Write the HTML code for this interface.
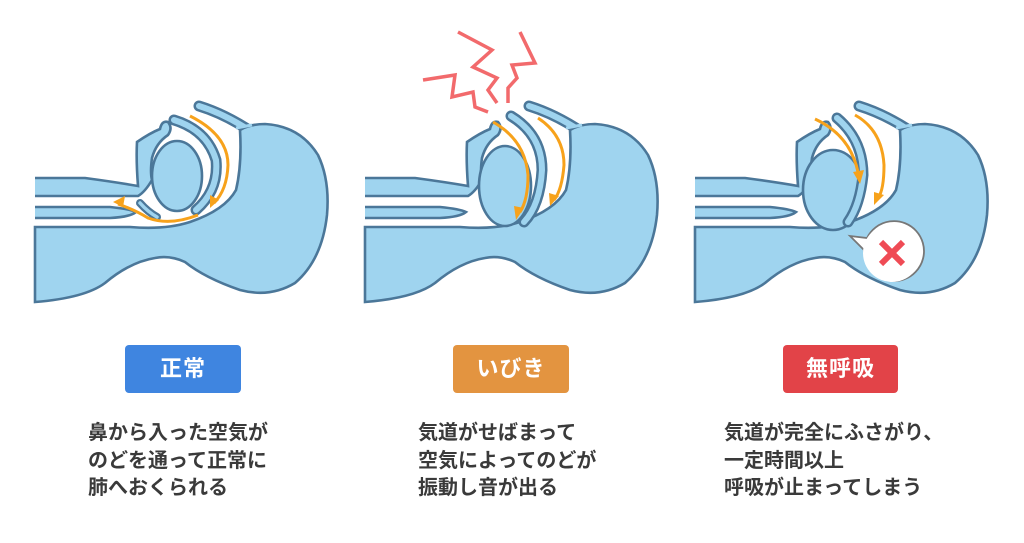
<!DOCTYPE html>
<html><head><meta charset="utf-8"><style>
html,body{margin:0;padding:0;background:#fff;}
body{width:1024px;height:543px;position:relative;overflow:hidden;font-family:"Liberation Sans","Noto Sans CJK JP",sans-serif;}
.badge{position:absolute;top:345px;height:48px;border-radius:4px;color:#fff;font-size:22px;font-weight:bold;text-align:center;line-height:48px;letter-spacing:1px}
.txt{position:absolute;top:420px;font-size:20px;line-height:27.5px;color:#3a3a3a;font-weight:bold;white-space:nowrap}
svg{position:absolute;left:0;top:0}
</style></head><body>
<svg width="1024" height="340" viewBox="0 0 1024 340">
<defs>
<g id="body">
 <path d="M199,106 Q225,114 252,132" fill="none" stroke="#4b7799" stroke-width="11" stroke-linecap="round"/>
 <path d="M199,106 Q225,114 252,132" fill="none" stroke="#9fd4ef" stroke-width="6" stroke-linecap="round"/>
 <path d="M35,227 L130,227 Q165,230 190,222 Q225,210 236,190 Q242,165 240,130 Q250,124 265,124 Q300,126 318,155 Q330,180 327,215 Q322,260 295,283 Q270,298 240,290 Q205,278 185,262 Q170,255 155,258 Q130,262 105,283 Q85,298 35,302 Z" fill="#9fd4ef" stroke="#4b7799" stroke-width="2.6"/>
 <path d="M236,128 L252,125" stroke="#9fd4ef" stroke-width="3"/>
 <path d="M35,207 L110,207 Q130,209 136,212 Q130,217 110,218 L35,218" fill="#9fd4ef" stroke="#4b7799" stroke-width="2.6"/>
</g>
<g id="face">
 <path d="M35,178 L85,178 Q115,182 138,186 Q136,160 137,142 Q150,133 160,129 Q162,120 168,122 Q173,128 168,135 Q156,143 152,158 Q150,172 152,180 Q145,192 138,196 L35,196" fill="#9fd4ef" stroke="#4b7799" stroke-width="2.6"/>
</g>
</defs>
<!-- panel 1 -->
<use href="#body"/>
<use href="#face"/>
<ellipse cx="177" cy="176" rx="25" ry="35" fill="#9fd4ef" stroke="#4b7799" stroke-width="2.6"/>
<path d="M140,203 Q148,212 157,217" fill="none" stroke="#4b7799" stroke-width="8" stroke-linecap="round"/>
<path d="M140,203 Q148,212 157,217" fill="none" stroke="#9fd4ef" stroke-width="3.5" stroke-linecap="round"/>
<path d="M174,120 Q207,130 216,160 Q219,190 196,210" fill="none" stroke="#4b7799" stroke-width="11" stroke-linecap="round"/>
<path d="M174,120 Q207,130 216,160 Q219,190 196,210" fill="none" stroke="#9fd4ef" stroke-width="6" stroke-linecap="round"/>
<g fill="none" stroke="#f7a21b" stroke-width="3">
 <path d="M190,116 Q228,135 228,165 Q227,190 214,203"/>
 <path d="M198,215 Q170,226 148,218 Q135,210 118,204"/>
</g>
<g fill="#f7a21b"><path d="M210,208 L210,195 L219,200 Z"/><path d="M113,202 L125,196 L123,207 Z"/></g>

<!-- panel 2 -->
<g transform="translate(330,0)">
<use href="#body"/>
<use href="#face"/>
<ellipse cx="175" cy="186" rx="26" ry="40" fill="#9fd4ef" stroke="#4b7799" stroke-width="2.6"/>
<path d="M181,116 Q212,135 212,170 Q210,205 194,222" fill="none" stroke="#4b7799" stroke-width="11" stroke-linecap="round"/>
<path d="M181,116 Q212,135 212,170 Q210,205 194,222" fill="none" stroke="#9fd4ef" stroke-width="6" stroke-linecap="round"/>
<g fill="none" stroke="#f7a21b" stroke-width="3">
 <path d="M163,122 Q195,140 198,175 Q198,200 190,212"/>
 <path d="M208,118 Q234,135 234,165 Q232,190 224,200"/>
</g>
<g fill="#f7a21b"><path d="M186,220 L184,206 L194,208 Z"/><path d="M220,206 L219,193 L229,196 Z"/></g>
</g>
<g fill="none" stroke="#f26a6c" stroke-width="3.5" stroke-linejoin="miter">
 <polyline points="423,80 455,75 452,97 473,92 475,107 488,112"/>
 <polyline points="458,32 492,50 473,67 497,78 488,90 497,103"/>
 <polyline points="520,32 535,63 512,65 517,78 508,88 508,103"/>
</g>

<!-- panel 3 -->
<g transform="translate(660,0)">
<use href="#body"/>
<use href="#face"/>
<ellipse cx="173" cy="190" rx="30" ry="40" fill="#9fd4ef" stroke="#4b7799" stroke-width="2.6"/>
<path d="M177,118 Q203,140 203,175 Q200,205 188,222" fill="none" stroke="#4b7799" stroke-width="11" stroke-linecap="round"/>
<path d="M177,118 Q203,140 203,175 Q200,205 188,222" fill="none" stroke="#9fd4ef" stroke-width="6" stroke-linecap="round"/>
<g fill="none" stroke="#f7a21b" stroke-width="3">
 <path d="M155,119 Q190,135 198,172"/>
 <path d="M195,115 Q222,130 224,165 Q224,190 218,198"/>
</g>
<g fill="#f7a21b"><path d="M200,184 L193,172 L204,170 Z"/><path d="M214,205 L214,192 L224,195 Z"/></g>
<path d="M190,236 L207,238 A30,30 0 1 1 204,250 Z" fill="#fff" stroke="#777" stroke-width="1.8"/>
<circle cx="232" cy="253" r="29" fill="#fff"/>
<path d="M221,242 L243,264 M243,242 L221,264" stroke="#ef4b55" stroke-width="6"/>
</g>
</svg>

<div class="badge" style="left:125px;width:116px;background:#3f85e0">正常</div>
<div class="badge" style="left:453px;width:116px;background:#e39440">いびき</div>
<div class="badge" style="left:783px;width:115px;background:#e24348">無呼吸</div>

<div class="txt" style="left:88px">鼻から入った空気が<br>のどを通って正常に<br>肺へおくられる</div>
<div class="txt" style="left:418px">気道がせばまって<br>空気によってのどが<br>振動し音が出る</div>
<div class="txt" style="left:724px">気道が完全にふさがり、<br>一定時間以上<br>呼吸が止まってしまう</div>
</body></html>
